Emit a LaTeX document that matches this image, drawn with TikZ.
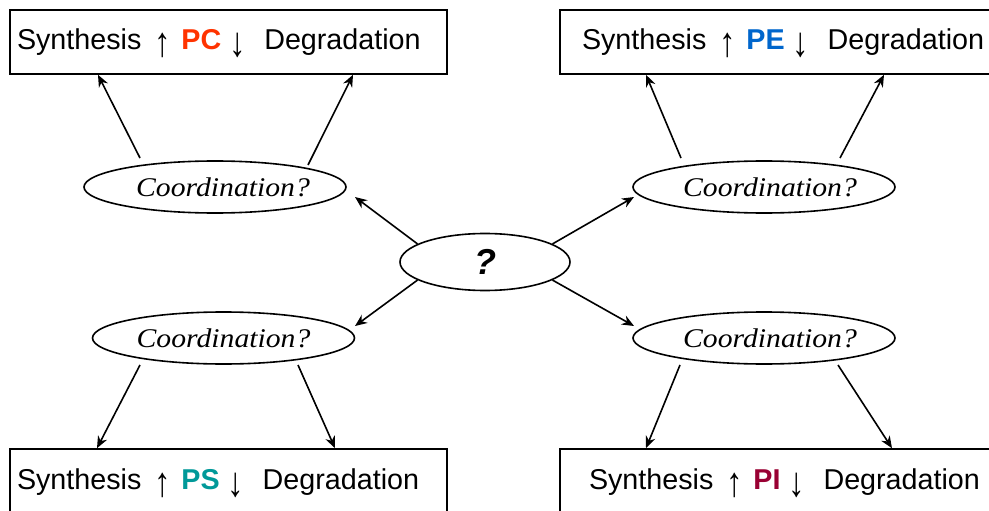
\documentclass[tikz,border=0pt]{standalone}
\usepackage{fontspec}
\setmainfont{Liberation Sans}
\newfontfamily\coordfont[FakeStretch=1.1]{Liberation Serif}
\usetikzlibrary{shapes.geometric,arrows.meta}
\definecolor{pccol}{RGB}{255,51,0}
\definecolor{pecol}{RGB}{0,102,204}
\definecolor{pscol}{RGB}{0,153,153}
\definecolor{picol}{RGB}{153,0,51}
\newcommand\myup{\makebox[17pt]{\raisebox{-7pt}{\scalebox{1.15}[1.45]{↑}}}}
\newcommand\mydn{\makebox[15pt]{\raisebox{-7pt}{\scalebox{1.15}[1.45]{↓}}}}
\newcommand\boxtext[3]{Synthesis\hspace{13pt}\myup\hspace{10pt}\textcolor{#1}{\textbf{#2}}\hspace{9pt}\mydn\hspace{19pt}Degradation}
\newcommand\coordtext[1]{\makebox[150pt][c]{\hspace*{#1}\raisebox{-2pt}{Coordination?}}}
\begin{document}
\begin{tikzpicture}[x=1pt,y=-1pt,
  box/.style={draw, line width=1.6pt, minimum height=64pt, inner sep=0pt,
    text height=21pt, text depth=5pt,
    font=\fontsize{28.7}{34}\selectfont},
  coord/.style={draw, ellipse, line width=1.6pt, minimum width=262pt,
    minimum height=52pt, inner sep=0pt,
    font=\coordfont\itshape\fontsize{27}{30}\selectfont},
  arr/.style={line width=1.6pt, -{Stealth[length=12pt,width=10pt]}}]
\clip (0,0) rectangle (989,511);
% boxes
\node[box] (tl) at (228.5,42)
  {\makebox[437pt][l]{\hspace*{7pt}\boxtext{pccol}{PC}{}}};
\node[box] (tr) at (786,42)
  {\makebox[452pt][l]{\hspace*{22pt}\boxtext{pecol}{PE}{}}};
\node[box] (bl) at (228.5,481)
  {\makebox[437pt][l]{\hspace*{7pt}\boxtext{pscol}{PS}{}}};
\node[box] (br) at (786,481)
  {\makebox[452pt][l]{\hspace*{29pt}\boxtext{picol}{PI}{}}};
% ellipses
\node[coord] (etl) at (215,187) {\coordtext{16pt}};
\node[coord] (etr) at (764,187) {\coordtext{12pt}};
\node[coord] (ebl) at (223.5,338) {\coordtext{0pt}};
\node[coord] (ebr) at (764,338) {\coordtext{12pt}};
\node[draw, ellipse, line width=1.6pt, minimum width=170pt, minimum height=57pt,
  inner sep=0pt, font=\fontsize{36}{40}\selectfont\bfseries\itshape]
  (ctr) at (485,262) {?};
% connector end points
\coordinate (s1) at (140,158);
\coordinate (s2) at (308,165);
\coordinate (s3) at (681,158);
\coordinate (s4) at (840,158);
\coordinate (s5) at (140,365);
\coordinate (s6) at (298,365);
\coordinate (s7) at (680,365);
\coordinate (s8) at (838,365);
\coordinate (t9) at (355,197);
\coordinate (t10) at (634,197);
\coordinate (t11) at (355,326);
\coordinate (t12) at (634,326);
% connectors
\draw[arr] (s1) -- (98,0 |- tl.south);
\draw[arr] (s2) -- (353,0 |- tl.south);
\draw[arr] (s3) -- (646,0 |- tr.south);
\draw[arr] (s4) -- (884,0 |- tr.south);
\draw[arr] (s5) -- (97,0 |- bl.north);
\draw[arr] (s6) -- (335,0 |- bl.north);
\draw[arr] (s7) -- (646,0 |- br.north);
\draw[arr] (s8) -- (892,0 |- br.north);
\draw[arr] (ctr.165) -- (t9);
\draw[arr] (ctr.15) -- (t10);
\draw[arr] (ctr.195) -- (t11);
\draw[arr] (ctr.-15) -- (t12);
\end{tikzpicture}
\end{document}
